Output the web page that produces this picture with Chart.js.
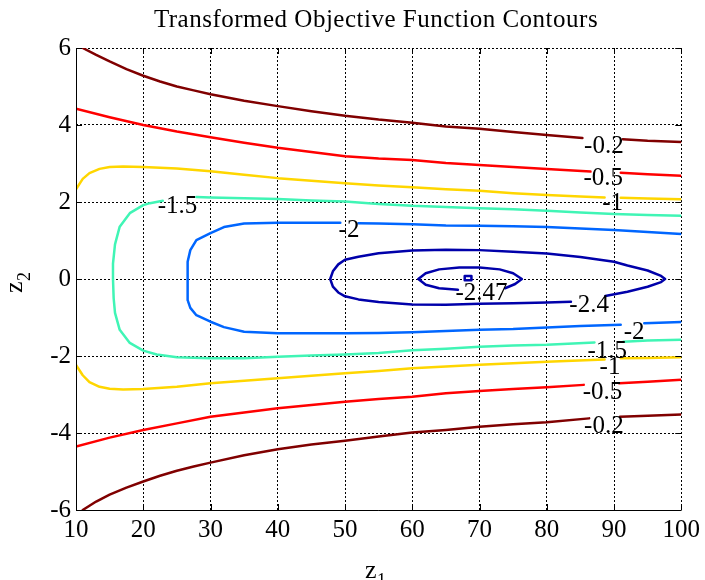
<!DOCTYPE html>
<html lang="en">
<head>
<meta charset="UTF-8">
<title>Transformed Objective Function Contours</title>
<script src="https://cdn.jsdelivr.net/npm/chart.js"></script>
<style>
  body { margin: 0; background: #fff; }
  #wrap { width: 705px; height: 580px; position: relative; }
</style>
</head>
<body>
<div id="wrap"><canvas id="contours"></canvas></div>
<script>
// axis ticks
const xTicks = [10, 20, 30, 40, 50, 60, 70, 80, 90, 100];
const yTicks = [-6, -4, -2, 0, 2, 4, 6];

// contour lines as [z1, z2]; null = gap left for a label
const lvl02Top = [[11,6.0],[13,5.82],[15,5.65],[17.5,5.45],[20,5.28],[22.5,5.13],[25,5.0],[27.5,4.9],[30,4.8],[35,4.63],[40,4.49],[45,4.36],[50,4.24],[55,4.14],[60,4.06],[65,3.96],[70,3.9],[75,3.82],[80,3.74],[85.3,3.66],null,[91.3,3.63],[95,3.59],[100,3.56]];
const lvl05Top = [[10,4.42],[15,4.2],[20,4.0],[25,3.83],[30,3.68],[35,3.54],[40,3.41],[45,3.3],[50,3.19],[55,3.13],[60,3.09],[65,3.01],[70,2.96],[75,2.91],[80,2.86],[86.5,2.79],null,[91,2.76],[95,2.72],[100,2.68]];
const lvl1Top = [[10,2.33],[11,2.6],[12,2.75],[13.5,2.86],[15,2.91],[17,2.92],[20,2.91],[25,2.87],[30,2.8],[35,2.71],[40,2.62],[45,2.55],[50,2.49],[55,2.43],[60,2.38],[65,2.33],[70,2.29],[75,2.23],[80,2.18],[85,2.14],[88.6,2.12],null,[91,2.11],[95,2.09],[100,2.07]];
const lvl15 = [[100,1.64],[95,1.66],[90,1.69],[85,1.73],[80,1.77],[75,1.81],[70,1.84],[65,1.87],[60,1.9],[55,1.95],[50,2.01],[45,2.04],[40,2.08],[35,2.1],[30,2.12],[27.9,2.13],null,
  [22.9,2.03],[21,1.97],[20,1.92],[18,1.71],[16.5,1.36],[15.8,0.9],[15.5,0.4],[15.5,0],[15.6,-0.5],[15.8,-0.88],[16.5,-1.32],[18,-1.66],[20,-1.86],[22,-1.96],[25,-2.03],[30,-2.06],[35,-2.06],[40,-2.02],[45,-1.99],[50,-1.96],[55,-1.92],[60,-1.85],[65,-1.81],[70,-1.76],[75,-1.73],[80,-1.71],[87.1,-1.65],null,[91.4,-1.63],[95,-1.6],[100,-1.58]];
const lvl2 = [[100,1.17],[95,1.22],[90,1.27],[85,1.31],[80,1.35],[75,1.37],[70,1.38],[65,1.39],[60,1.42],[55,1.44],[52,1.45],null,
  [49.3,1.46],[45,1.46],[40,1.46],[35,1.44],[32,1.35],[30,1.19],[27.9,1.01],[27,0.75],[26.6,0.45],[26.6,0],[26.6,-0.55],[27,-0.75],[27.9,-0.94],[30,-1.11],[32,-1.25],[35,-1.37],[40,-1.41],[45,-1.41],[50,-1.41],[55,-1.4],[60,-1.38],[65,-1.35],[70,-1.32],[75,-1.3],[80,-1.26],[85,-1.22],[91,-1.19],null,[94.5,-1.15],[100,-1.12]];
const lvl24 = [[88.7,-0.44],[92,-0.33],[95,-0.2],[97,-0.08],[97.6,0],[97,0.08],[95,0.22],[92,0.35],[90,0.45],[85,0.57],[80,0.66],[75,0.71],[70,0.75],[65,0.76],[60,0.74],[55,0.67],[52,0.58],[50,0.5],[49,0.38],[48.2,0.2],[47.8,0],[48.2,-0.2],[49,-0.35],[50,-0.45],[52,-0.53],[55,-0.6],[60,-0.66],[65,-0.67],[70,-0.64],[75,-0.63],[80,-0.61],[83.6,-0.59]];
const lvl245 = [[73.8,-0.24],[75.3,-0.13],[76.3,0],[75,0.15],[73,0.25],[70,0.3],[67,0.3],[64,0.25],[62,0.15],[60.9,0],[62,-0.15],[64,-0.24],[66.8,-0.28]];
const lvl247 = [[67.8,0.08],[68.8,0.08],[68.8,-0.03],[67.8,-0.03],[67.8,0.08]];
const lvl1Bottom = [[10,-2.23],[11,-2.5],[12,-2.68],[13.5,-2.8],[15,-2.85],[17,-2.87],[20,-2.86],[25,-2.8],[30,-2.71],[35,-2.64],[40,-2.58],[45,-2.51],[50,-2.45],[55,-2.39],[60,-2.32],[65,-2.27],[70,-2.23],[75,-2.19],[80,-2.15],[88.6,-2.09],null,[91,-2.06],[95,-2.05],[100,-2.03]];
const lvl05Bottom = [[10,-4.35],[15,-4.12],[20,-3.92],[25,-3.75],[30,-3.58],[35,-3.47],[40,-3.36],[45,-3.27],[50,-3.19],[55,-3.12],[60,-3.06],[65,-2.97],[70,-2.91],[75,-2.86],[80,-2.81],[85.5,-2.75],null,[90.8,-2.71],[95,-2.67],[100,-2.62]];
const lvl02Bottom = [[11,-6.0],[13,-5.78],[15,-5.6],[17.5,-5.42],[20,-5.26],[22.5,-5.11],[25,-4.98],[27.5,-4.87],[30,-4.77],[35,-4.58],[40,-4.42],[45,-4.3],[50,-4.2],[55,-4.09],[60,-3.99],[65,-3.92],[70,-3.84],[75,-3.77],[80,-3.72],[86.3,-3.62],null,[90.9,-3.58],[95,-3.55],[100,-3.52]];

// inline contour labels
const labelText = ['-0.2', '-0.5', '-1', '-1.5', '-2', '-2.4', '-2.47', '-2', '-1.5', '-1', '-0.5', '-0.2'];
const labelX = [88.5, 88.4, 89.8, 25.1, 50.6, 86.3, 70.3, 93.0, 89.0, 89.4, 88.3, 88.5];
const labelY = [3.49, 2.66, 1.99, 1.91, 1.29, -0.64, -0.35, -1.36, -1.84, -2.26, -2.9, -3.79];

const FONT = '"Liberation Serif", "Times New Roman", serif';

const contours = [
  { pts: lvl02Top, color: '#800000' },
  { pts: lvl02Bottom, color: '#800000' },
  { pts: lvl05Top, color: '#ff0000' },
  { pts: lvl05Bottom, color: '#ff0000' },
  { pts: lvl1Top, color: '#ffd600' },
  { pts: lvl1Bottom, color: '#ffd600' },
  { pts: lvl15, color: '#40f5b5' },
  { pts: lvl2, color: '#0066ff' },
  { pts: lvl24, color: '#0000aa' },
  { pts: lvl245, color: '#0000aa' },
  { pts: lvl247, color: '#0000aa' }
];

const datasets = contours.map(c => ({
  data: c.pts.map(p => p ? { x: p[0], y: p[1] } : { x: null, y: null }),
  borderColor: c.color,
  borderWidth: 2.5,
  pointRadius: 0,
  showLine: true,
  spanGaps: false,
  borderJoinStyle: 'round',
  borderCapStyle: 'round'
}));

// title, axis titles with subscripts, inward ticks, box and contour labels
const decorations = {
  id: 'decorations',
  afterDraw(chart) {
    const { ctx, chartArea: a, scales: { x, y } } = chart;
    ctx.save();
    ctx.setLineDash([]);
    ctx.strokeStyle = '#000';
    ctx.lineWidth = 1;
    ctx.beginPath();
    ctx.moveTo(a.left + 0.5, a.top);
    ctx.lineTo(a.left + 0.5, a.bottom + 0.5);
    ctx.lineTo(a.right, a.bottom + 0.5);
    xTicks.forEach(v => {
      const px = Math.round(x.getPixelForValue(v)) + 0.5;
      ctx.moveTo(px, a.bottom); ctx.lineTo(px, a.bottom - 6);
      ctx.moveTo(px, a.top); ctx.lineTo(px, a.top + 6);
    });
    yTicks.forEach(v => {
      const py = Math.round(y.getPixelForValue(v)) + 0.5;
      ctx.moveTo(a.left, py); ctx.lineTo(a.left + 6, py);
      ctx.moveTo(a.right, py); ctx.lineTo(a.right - 6, py);
    });
    ctx.stroke();

    ctx.fillStyle = '#000';
    ctx.textAlign = 'center';
    ctx.textBaseline = 'alphabetic';
    ctx.font = '25px ' + FONT;
    labelText.forEach((t, i) => {
      ctx.fillText(t, x.getPixelForValue(labelX[i]), y.getPixelForValue(labelY[i]) + 8);
    });

    // title
    ctx.font = '25px ' + FONT;
    ctx.letterSpacing = '0.5px';
    ctx.fillText('Transformed Objective Function Contours', 376, 27);
    ctx.letterSpacing = '0px';

    // x axis title z_1
    ctx.textAlign = 'left';
    ctx.font = '26px ' + FONT;
    ctx.fillText('z', 365, 578);
    ctx.font = '18px ' + FONT;
    ctx.fillText('1', 377, 586);

    // y axis title z_2, rotated
    ctx.translate(22, 293);
    ctx.rotate(-Math.PI / 2);
    ctx.font = '26px ' + FONT;
    ctx.fillText('z', 0, 0);
    ctx.font = '18px ' + FONT;
    ctx.fillText('2', 12, 8);
    ctx.restore();
  }
};

new Chart(document.getElementById('contours'), {
  type: 'scatter',
  data: { datasets },
  plugins: [decorations],
  options: {
    responsive: true,
    maintainAspectRatio: false,
    animation: false,
    layout: { padding: { left: 0, top: 48, right: 21, bottom: 0 } },
    plugins: { legend: { display: false }, tooltip: { enabled: false } },
    scales: {
      x: {
        type: 'linear', position: 'bottom', min: 10, max: 100,
        afterBuildTicks: s => { s.ticks = xTicks.map(v => ({ value: v })); },
        afterFit: s => { s.height = 70; },
        grid: { color: '#000', lineWidth: 1, drawTicks: false },
        border: { display: false, dash: [2, 2] },
        ticks: { color: '#000', padding: 5, maxRotation: 0, font: { family: FONT, size: 25 } }
      },
      y: {
        type: 'linear', position: 'left', min: -6, max: 6,
        afterBuildTicks: s => { s.ticks = yTicks.map(v => ({ value: v })); },
        afterFit: s => { s.width = 76; },
        grid: { color: '#000', lineWidth: 1, drawTicks: false },
        border: { display: false, dash: [2, 2] },
        ticks: { color: '#000', padding: 5, font: { family: FONT, size: 25 } }
      }
    }
  }
});
</script>
</body>
</html>
